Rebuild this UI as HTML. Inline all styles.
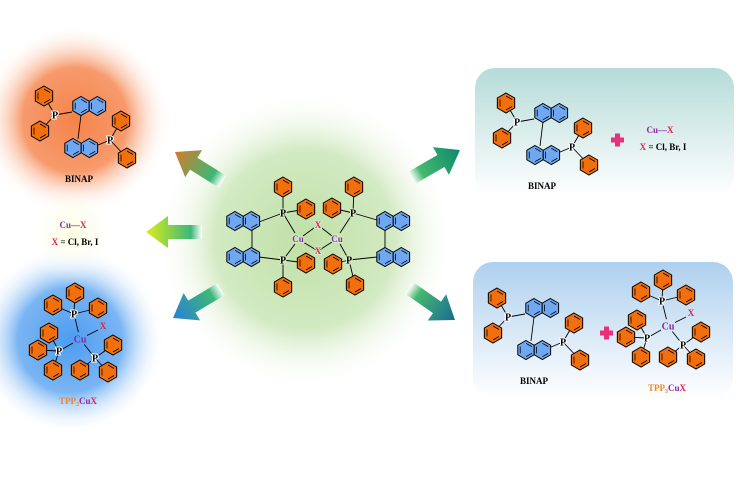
<!DOCTYPE html>
<html><head><meta charset="utf-8"><style>
html,body{margin:0;padding:0;background:#fff}
svg{display:block}
text{font-family:"Liberation Serif",serif;font-weight:bold}
</style></head><body>
<svg width="741" height="481" viewBox="0 0 741 481" xmlns="http://www.w3.org/2000/svg">
<defs>
<radialGradient id="gO"><stop offset="0" stop-color="#f5834a"/><stop offset="0.55" stop-color="#f79a6c"/><stop offset="1" stop-color="#fff" stop-opacity="0"/></radialGradient>
<radialGradient id="gB"><stop offset="0" stop-color="#4d9cf0"/><stop offset="0.55" stop-color="#7ab5f3"/><stop offset="1" stop-color="#fff" stop-opacity="0"/></radialGradient>
<radialGradient id="gG"><stop offset="0" stop-color="#bfe0a6"/><stop offset="0.6" stop-color="#d3eac3"/><stop offset="1" stop-color="#fff" stop-opacity="0"/></radialGradient>
<radialGradient id="gY"><stop offset="0" stop-color="#fdfde0"/><stop offset="1" stop-color="#fff" stop-opacity="0"/></radialGradient>
<linearGradient id="b1" x1="0" y1="0" x2="0" y2="1"><stop offset="0" stop-color="#b5dbd8"/><stop offset="1" stop-color="#fff"/></linearGradient>
<linearGradient id="b2" x1="0" y1="0" x2="0" y2="1"><stop offset="0" stop-color="#aed0ee"/><stop offset="1" stop-color="#fff"/></linearGradient>
<linearGradient id="a1" gradientUnits="userSpaceOnUse" x1="-56" y1="0" x2="0" y2="0"><stop offset="0" stop-color="#fff"/><stop offset="0.2" stop-color="#3cb878"/><stop offset="1" stop-color="#d47a2a"/></linearGradient>
<linearGradient id="a2" gradientUnits="userSpaceOnUse" x1="-56" y1="0" x2="0" y2="0"><stop offset="0" stop-color="#fff"/><stop offset="0.2" stop-color="#3cb878"/><stop offset="1" stop-color="#dcee1c"/></linearGradient>
<linearGradient id="a3" gradientUnits="userSpaceOnUse" x1="-56" y1="0" x2="0" y2="0"><stop offset="0" stop-color="#fff"/><stop offset="0.2" stop-color="#3cb878"/><stop offset="1" stop-color="#2a7fd8"/></linearGradient>
<linearGradient id="a4" gradientUnits="userSpaceOnUse" x1="-56" y1="0" x2="0" y2="0"><stop offset="0" stop-color="#fff"/><stop offset="0.2" stop-color="#45b870"/><stop offset="1" stop-color="#0f8a6a"/></linearGradient>
<linearGradient id="a5" gradientUnits="userSpaceOnUse" x1="-56" y1="0" x2="0" y2="0"><stop offset="0" stop-color="#fff"/><stop offset="0.2" stop-color="#45b870"/><stop offset="1" stop-color="#1a6a92"/></linearGradient>
<g id="ph">
<polygon points="0,-10 8.66,-5 8.66,5 0,10 -8.66,5 -8.66,-5" fill="#f26f0d" stroke="#000" stroke-width="1"/>
<path d="M0,-7 L6,-3.5 M6,3.5 L0,7 M-6,3.5 L-6,-3.5" stroke="#000" stroke-width="0.8" fill="none"/>
</g>
<g id="hx">
<polygon points="0,-9.5 8.2,-4.75 8.2,4.75 0,9.5 -8.2,4.75 -8.2,-4.75" fill="#6fa8f0" stroke="#000" stroke-width="1"/>
<path d="M0,-6.7 L5.8,-3.4 M5.8,3.4 L0,6.7 M-5.8,3.4 L-5.8,-3.4" stroke="#000" stroke-width="0.8" fill="none"/>
</g>
<g id="nap"><use href="#hx" x="0" y="0"/><use href="#hx" x="16.4" y="0"/></g>
<path id="arr" d="M-56,-7 L-22,-7 L-22,-16 L0,0 L-22,16 L-22,7 L-56,7 Z"/>
<g id="binap">
<g stroke="#000" stroke-width="0.9">
<line x1="0" y1="0" x2="-11" y2="-19"/><line x1="0" y1="0" x2="-15" y2="16"/>
<line x1="0" y1="0" x2="17" y2="-3"/>
<line x1="26" y1="0" x2="23" y2="24"/>
<line x1="36" y1="33" x2="55" y2="25"/>
<line x1="55" y1="25" x2="66" y2="6"/><line x1="55" y1="25" x2="72" y2="43"/>
</g>
<use href="#ph" x="-11" y="-19"/><use href="#ph" x="-15" y="16"/>
<use href="#nap" x="26" y="-9"/>
<use href="#nap" x="18" y="33"/>
<use href="#ph" x="66" y="6"/><use href="#ph" x="72" y="43"/>
<text x="0" y="3.5" font-size="10" text-anchor="middle" fill="#000" stroke="#fff" stroke-width="2" paint-order="stroke">P</text>
<text x="55" y="28.5" font-size="10" text-anchor="middle" fill="#000" stroke="#fff" stroke-width="2" paint-order="stroke">P</text>
</g>
<g id="tpp">
<g stroke="#000" stroke-width="0.9">
<line x1="-1.6" y1="-6.8" x2="-6" y2="-25"/><line x1="-7" y1="4" x2="-21" y2="12"/><line x1="4.3" y1="5.5" x2="15" y2="19"/><line x1="7" y1="-3.5" x2="18" y2="-9"/>
<line x1="-6" y1="-25" x2="-5" y2="-46"/><line x1="-6" y1="-25" x2="-27" y2="-34"/><line x1="-6" y1="-25" x2="18" y2="-31"/>
<line x1="-21" y1="12" x2="-31" y2="-6"/><line x1="-21" y1="12" x2="-42" y2="11"/><line x1="-21" y1="12" x2="-27" y2="31"/>
<line x1="15" y1="19" x2="33" y2="6"/><line x1="15" y1="19" x2="0" y2="31"/><line x1="15" y1="19" x2="28" y2="33"/>
</g>
<use href="#ph" x="-5" y="-46"/><use href="#ph" x="-27" y="-34"/><use href="#ph" x="18" y="-31"/>
<use href="#ph" x="-31" y="-6"/><use href="#ph" x="-42" y="11"/><use href="#ph" x="-27" y="31"/>
<use href="#ph" x="33" y="6"/><use href="#ph" x="0" y="31"/><use href="#ph" x="28" y="33"/>
<text x="-6" y="-21.5" font-size="10" text-anchor="middle" fill="#000" stroke="#fff" stroke-width="2" paint-order="stroke">P</text>
<text x="-21" y="15.5" font-size="10" text-anchor="middle" fill="#000" stroke="#fff" stroke-width="2" paint-order="stroke">P</text>
<text x="15" y="22.5" font-size="10" text-anchor="middle" fill="#000" stroke="#fff" stroke-width="2" paint-order="stroke">P</text>
<text x="0" y="3.5" font-size="10" text-anchor="middle" fill="#8a2aa8">Cu</text>
<text x="23" y="-10" font-size="9" text-anchor="middle" fill="#e0204a">X</text>
</g>
</defs>

<circle cx="75" cy="120" r="95" fill="url(#gO)"/>
<circle cx="70" cy="340" r="95" fill="url(#gB)"/>
<circle cx="72" cy="232" r="50" fill="url(#gY)"/>
<circle cx="305" cy="240" r="150" fill="url(#gG)"/>

<rect x="475" y="68" width="259" height="128" rx="20" fill="url(#b1)"/>
<rect x="473" y="262" width="260" height="136" rx="20" fill="url(#b2)"/>

<use href="#arr" fill="url(#a1)" transform="translate(175,152) rotate(212)"/>
<use href="#arr" fill="url(#a2)" transform="translate(146,232) rotate(180)"/>
<use href="#arr" fill="url(#a3)" transform="translate(173,318) rotate(149)"/>
<use href="#arr" fill="url(#a4)" transform="translate(460,150) rotate(-30)"/>
<use href="#arr" fill="url(#a5)" transform="translate(455,320) rotate(35)"/>

<use href="#binap" x="55" y="115"/>
<text x="79" y="182" font-size="9" text-anchor="middle">BINAP</text>

<text x="73" y="228" font-size="9" text-anchor="middle"><tspan fill="#8a2aa8">Cu</tspan><tspan fill="#8a2aa8">—</tspan><tspan fill="#e0204a">X</tspan></text>
<text x="75" y="245" font-size="9" text-anchor="middle"><tspan fill="#e0204a">X</tspan> = Cl, Br, I</text>

<use href="#tpp" x="80" y="339"/>
<text x="78" y="404" font-size="9" text-anchor="middle"><tspan fill="#e8882a">TPP</tspan><tspan fill="#e8882a" font-size="6" dy="2">3</tspan><tspan fill="#8a2aa8" dy="-2">Cu</tspan><tspan fill="#e0204a">X</tspan></text>

<g stroke="#000" stroke-width="0.9">
<line x1="283" y1="213" x2="295" y2="233"/><line x1="283" y1="260" x2="295" y2="244"/>
<line x1="303" y1="236" x2="318" y2="225"/><line x1="303" y1="242" x2="318" y2="251"/>
<line x1="332" y1="236" x2="318" y2="225"/><line x1="332" y1="242" x2="318" y2="251"/>
<line x1="353" y1="213" x2="340" y2="233"/><line x1="349" y1="260" x2="340" y2="244"/>
<line x1="283" y1="213" x2="283" y2="187"/><line x1="283" y1="213" x2="306" y2="209"/><line x1="283" y1="213" x2="259" y2="222"/>
<line x1="283" y1="260" x2="306" y2="263"/><line x1="283" y1="260" x2="283" y2="287"/><line x1="283" y1="260" x2="259" y2="257"/>
<line x1="353" y1="213" x2="354" y2="187"/><line x1="353" y1="213" x2="332" y2="208"/><line x1="353" y1="213" x2="377" y2="220"/>
<line x1="349" y1="260" x2="333" y2="264"/><line x1="349" y1="260" x2="355" y2="285"/><line x1="349" y1="260" x2="377" y2="257"/>
<line x1="252" y1="228" x2="252" y2="248"/><line x1="385" y1="228" x2="385" y2="248"/>
</g>
<use href="#ph" x="283" y="187"/><use href="#ph" x="306" y="209"/>
<use href="#ph" x="306" y="263"/><use href="#ph" x="283" y="287"/>
<use href="#ph" x="354" y="187"/><use href="#ph" x="332" y="208"/>
<use href="#ph" x="333" y="264"/><use href="#ph" x="355" y="285"/>
<use href="#nap" x="235" y="221"/><use href="#nap" x="235" y="257"/>
<use href="#nap" x="385" y="221"/><use href="#nap" x="385" y="257"/>
<g font-size="10" text-anchor="middle" stroke="#d6ebc8" stroke-width="2" paint-order="stroke">
<text x="283" y="216.5" fill="#000">P</text><text x="283" y="263.5" fill="#000">P</text>
<text x="353" y="216.5" fill="#000">P</text><text x="349" y="263.5" fill="#000">P</text>
<text x="298" y="242" fill="#8a2aa8" font-size="9">Cu</text><text x="337" y="242" fill="#8a2aa8" font-size="9">Cu</text>
<text x="318" y="228" fill="#e0204a" font-size="9">X</text><text x="318" y="254" fill="#e0204a" font-size="9">X</text>
</g>

<use href="#binap" x="517" y="122"/>
<text x="542" y="189" font-size="9" text-anchor="middle">BINAP</text>
<path d="M611,140 h13 M617.5,133.5 v13" stroke="#e8317a" stroke-width="5"/>
<text x="660" y="133" font-size="9" text-anchor="middle"><tspan fill="#8a2aa8">Cu</tspan><tspan fill="#8a2aa8">—</tspan><tspan fill="#e0204a">X</tspan></text>
<text x="663" y="150" font-size="9" text-anchor="middle"><tspan fill="#e0204a">X</tspan> = Cl, Br, I</text>

<use href="#binap" x="508" y="317"/>
<text x="534" y="384" font-size="9" text-anchor="middle">BINAP</text>
<path d="M600,333 h13 M606.5,326.5 v13" stroke="#e8317a" stroke-width="5"/>
<use href="#tpp" x="668" y="326"/>
<text x="667" y="391" font-size="9" text-anchor="middle"><tspan fill="#e8882a">TPP</tspan><tspan fill="#e8882a" font-size="6" dy="2">3</tspan><tspan fill="#8a2aa8" dy="-2">Cu</tspan><tspan fill="#e0204a">X</tspan></text>
</svg>
</body></html>
